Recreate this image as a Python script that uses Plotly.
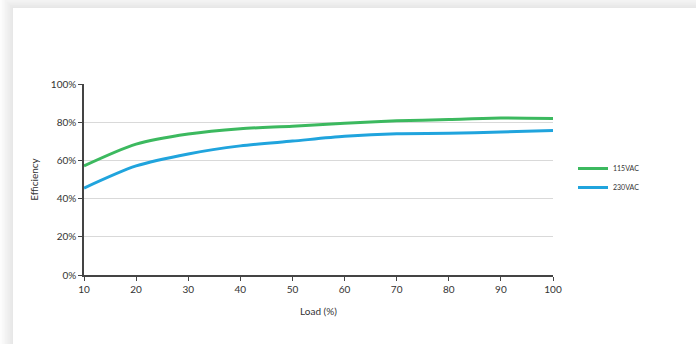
import plotly.graph_objects as go

load = [10, 20, 30, 40, 50, 60, 70, 80, 90, 100]
eff_115 = [57.1, 68.5, 73.8, 76.6, 77.9, 79.5, 80.7, 81.4, 82.2, 81.9]
eff_230 = [45.5, 57.1, 63.4, 67.6, 70.1, 72.6, 74.0, 74.2, 74.9, 75.7]
y_ticks = [0, 20, 40, 60, 80, 100]
y_labels = ["0%", "20%", "40%", "60%", "80%", "100%"]
x_ticks = [10, 20, 30, 40, 50, 60, 70, 80, 90, 100]

W, H = 696, 344
# plot area in page coords: x 84..553, y 84..275
L, T = 84, 84
pw, ph = 553 - 84, 275 - 84
R, B = W - L - pw, H - T - ph

def px(x):  # page x -> paper
    return (x - L) / pw

def py(y):  # page y -> paper
    return (H - B - y) / ph

fig = go.Figure()
fig.add_trace(go.Scatter(x=load, y=eff_115, name="115VAC", mode="lines",
                         line=dict(color="#3cb95f", width=3, shape="spline", smoothing=0.8)))
fig.add_trace(go.Scatter(x=load, y=eff_230, name="230VAC", mode="lines",
                         line=dict(color="#20a4dd", width=3, shape="spline", smoothing=0.8)))

shapes = []
for k in range(1, 9):
    shapes.append(dict(type="rect", xref="paper", yref="paper",
                       x0=px(13 - 1.6 * k), x1=px(760), y0=py(400), y1=py(8 - 1.6 * k),
                       fillcolor="rgba(0,0,0,0.012)", line=dict(width=0), layer="below"))
shapes.append(dict(type="rect", xref="paper", yref="paper",
                   x0=px(13), x1=px(760), y0=py(400), y1=py(8),
                   fillcolor="white", line=dict(width=0), layer="below"))

fig.update_layout(
    width=W, height=H,
    margin=dict(l=L, r=R, t=T, b=B),
    paper_bgcolor="white", plot_bgcolor="rgba(0,0,0,0)",
    font=dict(family="Lato, Open Sans, sans-serif", color="#333333", size=10),
    shapes=shapes,
    showlegend=True,
    legend=dict(x=px(573), y=py(178), xanchor="left", yanchor="middle",
                font=dict(size=7, color="#333333"), bgcolor="rgba(0,0,0,0)",
                itemwidth=30, tracegroupgap=4),
    xaxis=dict(range=[10, 100], tickvals=x_ticks, showgrid=False, zeroline=False,
               showline=True, linecolor="#444444", linewidth=1.5,
               ticks="outside", ticklen=4, tickcolor="#444444",
               tickfont=dict(size=10, color="#333333"),
               title=dict(text="Load (%)", font=dict(size=10, color="#333333"), standoff=14)),
    yaxis=dict(range=[0, 100], tickvals=y_ticks, ticktext=y_labels, showgrid=True,
               gridcolor="#d9d9d9", gridwidth=1, zeroline=False,
               showline=True, linecolor="#444444", linewidth=1.5,
               ticks="outside", ticklen=4, tickcolor="#444444",
               tickfont=dict(size=10, color="#333333"),
               title=dict(text="Efficiency", font=dict(size=10, color="#333333"), standoff=10)),
)

fig.write_html("out.html", config={"displayModeBar": False},
               post_script="document.body.style.margin='0';document.body.style.overflow='hidden';")
